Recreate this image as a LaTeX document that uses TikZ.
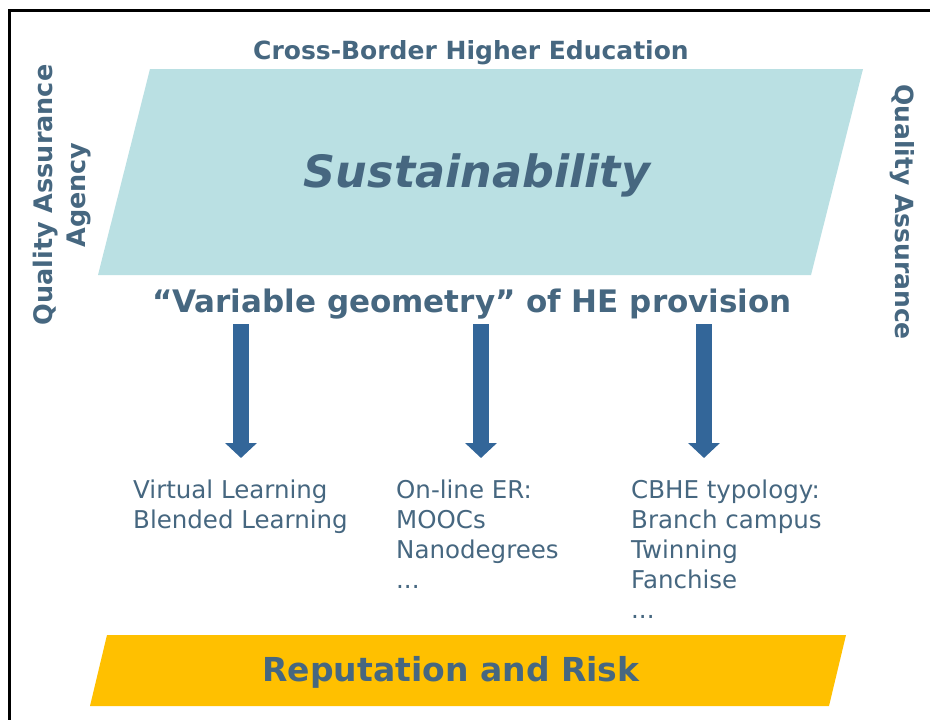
\documentclass[tikz,border=0pt]{standalone}
\usepackage{fontspec}
\setmainfont{DejaVu Sans}
\usetikzlibrary{arrows.meta}
\definecolor{ink}{HTML}{466780}
\definecolor{teal}{HTML}{BAE0E3}
\definecolor{gold}{HTML}{FFC000}
\definecolor{arrowblue}{HTML}{336699}
\tikzset{
  title/.style={text=ink, font=\bfseries\fontsize{#1}{#1}\selectfont, inner sep=0pt},
  item/.style={text=ink, font=\fontsize{24.5}{30}\selectfont, inner sep=0pt, anchor=base west},
  flow/.style={draw=arrowblue, line width=16pt, -{Triangle[width=31pt,length=15pt]}}
}
\begin{document}
\begin{tikzpicture}[x=1pt,y=-1pt]
\useasboundingbox (0,0) rectangle (930,720);
\clip (0,0) rectangle (930,720);
\fill[white] (0,0) rectangle (930,720);
% outer frame
\draw[line width=3pt] (9,10) rectangle (945,735);
% main banner and bottom band
\fill[teal] (150,69) -- (863,69) -- (811,275) -- (98,275) -- cycle;
\fill[gold] (107,635) -- (846,635) -- (829,706) -- (90,706) -- cycle;

\node[title=25, anchor=base] (cbhe) at (471,59) {Cross-Border Higher Education};
\node[title=44.5, anchor=base] (sust) at (477,187) {\itshape Sustainability};
\node[title=31, anchor=base] (vg) at (472,312) {“Variable geometry” of HE provision};
\node[title=33, anchor=base] (rr) at (451,681) {Reputation and Risk};

\node[title=25.5, rotate=90, align=center, font=\bfseries\fontsize{25.5}{33}\selectfont] (qaa) at (62,195) {Quality Assurance\\Agency};
\node[title=25, rotate=-90, anchor=center] (qa) at (902,212) {Quality Assurance};

% delivery modes
\node[item] (v1) at (133,498) {Virtual Learning};
\node[item] (v2) at (133,528) {Blended Learning};
\node[item] (o1) at (396,498) {On-line ER:};
\node[item] (o2) at (396,528) {MOOCs};
\node[item] (o3) at (396,558) {Nanodegrees};
\node[item] (o4) at (396,588) {...};
\node[item] (c1) at (631,498) {CBHE typology:};
\node[item] (c2) at (631,528) {Branch campus};
\node[item] (c3) at (631,558) {Twinning};
\node[item] (c4) at (631,588) {Fanchise};
\node[item] (c5) at (631,618) {...};

\coordinate (a1s) at (241,324); \coordinate (a1e) at (241,458);
\coordinate (a2s) at (481,324); \coordinate (a2e) at (481,458);
\coordinate (a3s) at (704,324); \coordinate (a3e) at (704,458);
\draw[flow] (a1s) -- (a1e);
\draw[flow] (a2s) -- (a2e);
\draw[flow] (a3s) -- (a3e);
\end{tikzpicture}
\end{document}
